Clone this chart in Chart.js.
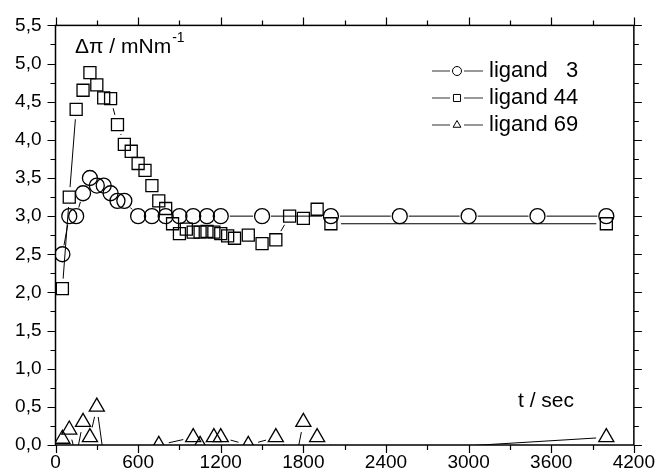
<!DOCTYPE html>
<html>
<head>
<meta charset="utf-8">
<script src="https://cdn.jsdelivr.net/npm/chart.js@4.4.1/dist/chart.umd.min.js"></script>
<style>
  html, body { margin: 0; padding: 0; background: #fff; }
  canvas { display: block; }
</style>
</head>
<body>
<canvas id="surface_chart" width="661" height="474"></canvas>
<script>
// ligand 3 (circles)
const time3 = [50, 100, 150, 200, 250, 300, 350, 400, 450, 500, 600, 700, 800, 900, 1000, 1100, 1200, 1500, 2000, 2500, 3000, 3500, 4000];
const pi3 = [2.5, 3.0, 3.0, 3.3, 3.5, 3.4, 3.4, 3.3, 3.2, 3.2, 3.0, 3.0, 3.0, 3.0, 3.0, 3.0, 3.0, 3.0, 3.0, 3.0, 3.0, 3.0, 3.0];

// ligand 44 (squares)
const time44 = [50, 100, 150, 200, 250, 300, 350, 400, 450, 500, 550, 600, 650, 700, 750, 800, 850, 900, 950, 1000, 1050, 1100, 1150, 1200, 1250, 1300, 1400, 1500, 1600, 1700, 1800, 1900, 2000, 4000];
const pi44 = [2.05, 3.25, 4.4, 4.65, 4.88, 4.72, 4.55, 4.54, 4.2, 3.94, 3.85, 3.69, 3.6, 3.4, 3.2, 3.1, 2.9, 2.77, 2.83, 2.79, 2.79, 2.8, 2.79, 2.77, 2.74, 2.71, 2.75, 2.64, 2.69, 3.0, 2.97, 3.09, 2.9, 2.9];

// ligand 69 (triangles), some points lie under the axis
const time69 = [50, 100, 150, 200, 250, 300, 350, 750, 1000, 1050, 1150, 1200, 1400, 1600, 1750, 1800, 1900, 2000, 4000];
const pi69 = [0.08, 0.2, -0.15, 0.3, 0.1, 0.5, -0.15, 0, 0.1, 0, 0.1, 0.1, 0, 0.1, -0.15, 0.3, 0.1, -0.12, 0.1];

const seriesNames = ["ligand 3", "ligand 44", "ligand 69"];

const xMax = 4200, xStep = 600, xMinor = 300;
const yMax = 5.5, yStep = 0.5, yMinor = 0.25;

function toPoints(xs, ys) {
    let out = new Array();
    for (let i = 0; i < xs.length; i++) out.push({x: xs[i], y: ys[i]});
    return out;
}

function commaNum(v) {
    return v.toFixed(1).replace(".", ",");
}

const FONT = "'Liberation Sans', Arial, sans-serif";

// lines between markers, with a gap round each marker (Origin style)
const gapLines = {
    id: "gapLines",
    beforeDatasetsDraw(chart) {
        const ctx = chart.ctx, a = chart.chartArea;
        ctx.save();
        ctx.beginPath();
        ctx.rect(a.left, a.top, a.right - a.left, a.bottom - a.top);
        ctx.clip();
        ctx.strokeStyle = "#000";
        ctx.lineWidth = 1;
        chart.data.datasets.forEach(function (ds, i) {
            let pts = chart.getDatasetMeta(i).data;
            let gap = ds.pointRadius + 1.5;
            for (let k = 1; k < pts.length; k++) {
                let p = pts[k - 1], q = pts[k];
                let dx = q.x - p.x, dy = q.y - p.y, d = Math.hypot(dx, dy);
                if (d <= 2 * gap) continue;
                let ux = dx / d, uy = dy / d;
                ctx.beginPath();
                ctx.moveTo(p.x + ux * gap, p.y + uy * gap);
                ctx.lineTo(q.x - ux * gap, q.y - uy * gap);
                ctx.stroke();
            }
        });
        ctx.restore();
    }
};

// frame, outward ticks on all four sides, texts and legend
const frame = {
    id: "frame",
    afterDraw(chart) {
        const ctx = chart.ctx, a = chart.chartArea;
        const x = chart.scales.x, y = chart.scales.y;
        ctx.save();
        ctx.strokeStyle = "#000";
        ctx.lineWidth = 1.5;
        ctx.strokeRect(a.left, a.top, a.right - a.left, a.bottom - a.top);

        ctx.lineWidth = 1.2;
        ctx.beginPath();
        for (let i = 0; i * xMinor <= xMax; i++) {
            let v = i * xMinor;
            let px = Math.round(x.getPixelForValue(v)) + 0.5;
            let len = (v % xStep === 0) ? 8 : 5;
            ctx.moveTo(px, a.bottom); ctx.lineTo(px, a.bottom + len);
            ctx.moveTo(px, a.top); ctx.lineTo(px, a.top - len);
        }
        for (let i = 0; i * yMinor <= yMax + 1e-9; i++) {
            let py = Math.round(y.getPixelForValue(i * yMinor)) + 0.5;
            let len = (i % 2 === 0) ? 8 : 5;
            ctx.moveTo(a.left, py); ctx.lineTo(a.left - len, py);
            ctx.moveTo(a.right, py); ctx.lineTo(a.right + len, py);
        }
        ctx.stroke();

        // axis titles inside the plot
        ctx.fillStyle = "#000";
        ctx.textBaseline = "middle";
        ctx.textAlign = "left";
        ctx.font = "21px " + FONT;
        let yt = "\u0394\u03c0 / mNm";
        ctx.fillText(yt, 75, 47);
        let w = ctx.measureText(yt).width;
        ctx.font = "14px " + FONT;
        ctx.fillText("-1", 75 + w + 1, 38);
        ctx.font = "21px " + FONT;
        ctx.fillText("t / sec", 518, 401);

        // legend
        ctx.font = "22px " + FONT;
        let textX = 489;
        let endX = textX + ctx.measureText("ligand 44").width;
        chart.data.datasets.forEach(function (ds, i) {
            let ry = 71 + i * 27;
            ctx.strokeStyle = "#333";
            ctx.lineWidth = 1.2;
            ctx.beginPath();
            ctx.moveTo(432, ry); ctx.lineTo(450, ry);
            ctx.moveTo(464, ry); ctx.lineTo(483, ry);
            ctx.stroke();
            ctx.strokeStyle = "#000";
            ctx.fillStyle = "#fff";
            ctx.lineWidth = 1;
            Chart.helpers.drawPoint(ctx, {
                pointStyle: ds.pointStyle, radius: ds.pointStyle === "rect" ? 5 : 4.5, borderWidth: 1
            }, 457, ry);
            let parts = ds.label.split(" ");
            ctx.fillStyle = "#000";
            ctx.textAlign = "left";
            ctx.fillText(parts[0], textX, ry);
            ctx.textAlign = "right";
            ctx.fillText(parts[1], endX, ry);
        });
        ctx.restore();
    }
};

const markerBase = {
    showLine: false,
    pointBackgroundColor: "rgba(0,0,0,0)",
    pointBorderColor: "#000",
    pointBorderWidth: 1.3,
    pointHoverRadius: 0,
    clip: 0
};

let ctx1 = document.getElementById("surface_chart");
let surfaceChart = new Chart(ctx1, {
    type: "scatter",
    plugins: [gapLines, frame],
    data: {
        datasets: [
            Object.assign({label: seriesNames[0], data: toPoints(time3, pi3), pointStyle: "circle", pointRadius: 7.5}, markerBase),
            Object.assign({label: seriesNames[1], data: toPoints(time44, pi44), pointStyle: "rect", pointRadius: 8.5}, markerBase),
            Object.assign({label: seriesNames[2], data: toPoints(time69, pi69), pointStyle: "triangle", pointRadius: 8.7}, markerBase)
        ]
    },
    options: {
        responsive: false,
        animation: false,
        layout: {padding: {top: 24, right: 23, left: 0, bottom: 0}},
        plugins: {
            legend: {display: false},
            tooltip: {enabled: false}
        },
        scales: {
            x: {
                type: "linear",
                min: 0, max: xMax,
                grid: {display: false, drawTicks: false},
                border: {display: false},
                afterFit: function (s) { s.height = 29; },
                ticks: {
                    stepSize: xStep,
                    padding: 6,
                    color: "#000",
                    font: {family: FONT, size: 19},
                    maxRotation: 0,
                    autoSkip: false,
                    callback: function (v) { return String(v); }
                }
            },
            y: {
                min: 0, max: yMax,
                grid: {display: false, drawTicks: false},
                border: {display: false},
                afterFit: function (s) { s.width = 55.5; },
                ticks: {
                    stepSize: yStep,
                    padding: 14,
                    color: "#000",
                    font: {family: FONT, size: 19},
                    callback: function (v) { return commaNum(v); }
                }
            }
        }
    }
});
</script>
</body>
</html>
